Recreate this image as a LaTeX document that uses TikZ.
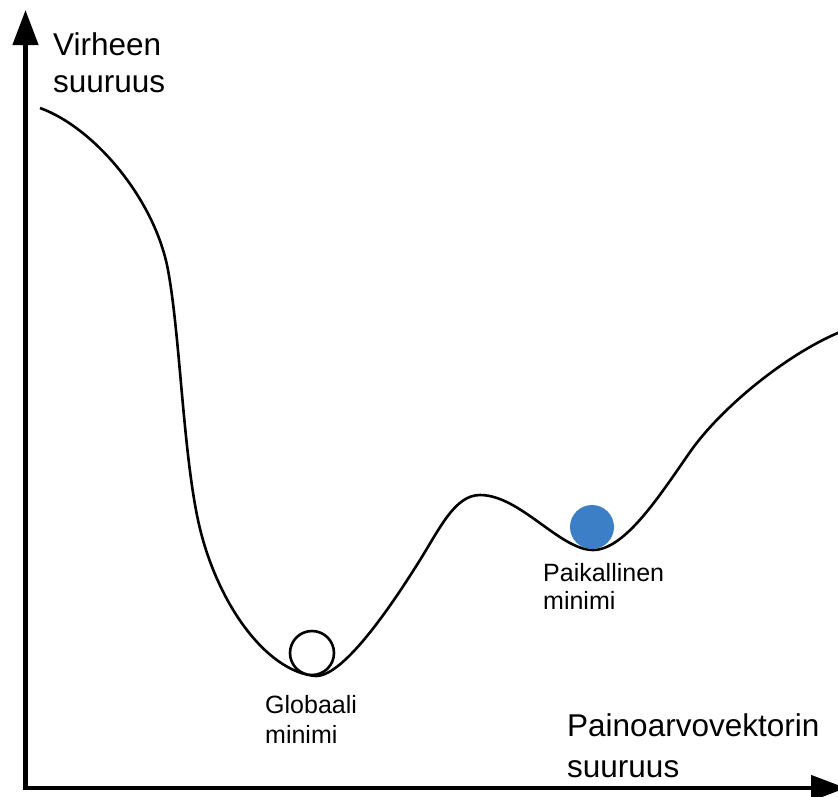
\documentclass[tikz,border=0pt]{standalone}
\usepackage{fontspec}
\setmainfont{Liberation Sans}
\usetikzlibrary{arrows.meta}
\definecolor{ballblue}{HTML}{3D7FC6}
\tikzset{
  axis/.style={line width=4.5pt, -{Triangle[length=35pt,width=25pt]}},
  curve/.style={line width=2.6pt, black, line join=round},
  biglab/.style={anchor=base west, inner sep=0pt, font=\fontsize{31.5}{36}\selectfont},
  smalllab/.style={anchor=base west, inner sep=0pt, font=\fontsize{25}{29}\selectfont},
}
\begin{document}
\begin{tikzpicture}[x=1pt,y=-1pt]
\useasboundingbox (0,0) rectangle (838,796);
\coordinate (origin) at (25.5,788);
\coordinate (ytip) at (25.5,10);
\coordinate (xtip) at (846,788);
\draw[axis] (25.5,790.2) -- (ytip);
\draw[axis] (23.3,788) -- (xtip);
\draw[curve] (40,108)
  .. controls (95,128) and (155,200) .. (168,270)
  .. controls (180,335) and (183,450) .. (198,520)
  .. controls (215,600) and (265,672) .. (316,676)
  .. controls (345,676) and (395,600) .. (420,560)
  .. controls (440,528) and (455,495) .. (480,495)
  .. controls (520,495) and (560,550) .. (593,550)
  .. controls (625,550) and (660,495) .. (690,452)
  .. controls (720,409) and (785,355) .. (840,332);
\node[circle, draw, line width=2.6pt, fill=white, minimum size=44pt, inner sep=0pt] (glob) at (312,653) {};
\node[circle, fill=ballblue, minimum size=44pt, inner sep=0pt] (loc) at (592,527) {};
\node[biglab] (ylab1) at (53,55) {Virheen};
\node[biglab] (ylab2) at (53,92) {suuruus};
\node[biglab] (xlab1) at (567,736) {Painoarvovektorin};
\node[biglab] (xlab2) at (567,777) {suuruus};
\node[smalllab] (g1) at (265,713) {Globaali};
\node[smalllab] (g2) at (265,743) {minimi};
\node[smalllab] (p1) at (543,581) {Paikallinen};
\node[smalllab] (p2) at (543,609) {minimi};
\end{tikzpicture}
\end{document}
